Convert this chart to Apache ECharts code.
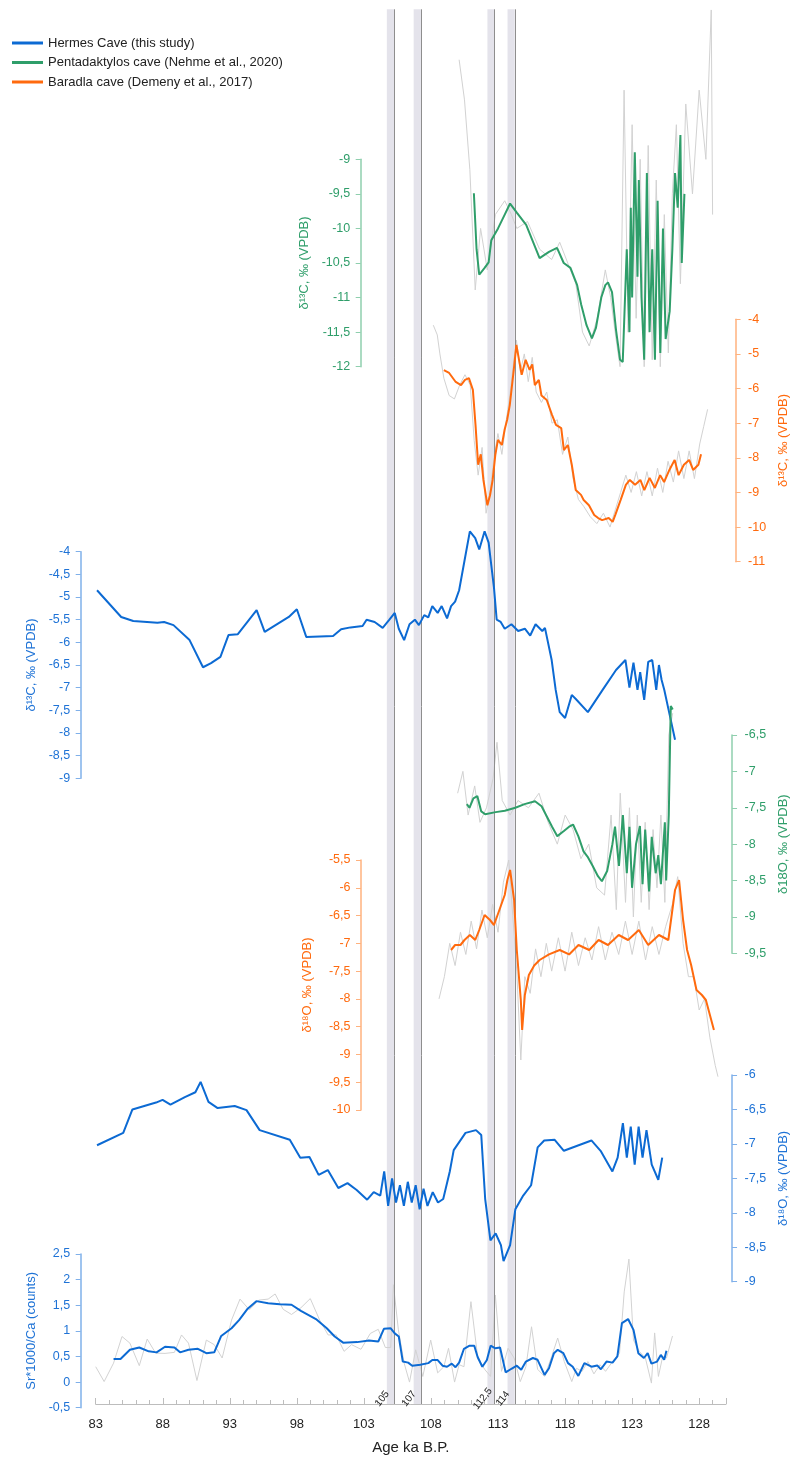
<!DOCTYPE html>
<html><head><meta charset="utf-8">
<script src="https://cdn.jsdelivr.net/npm/echarts@6/dist/echarts.min.js"></script>
<style>html,body{margin:0;padding:0;background:#fff}#c{width:798px;height:1460px}</style>
</head><body><div id="c"></div>
<script>
// ---------- DATA ----------
const ageTicks = [83, 88, 93, 98, 103, 108, 113, 118, 123, 128];
const bandAges = [105, 107, 112.5, 114];
const bandLabels = ['105', '107', '112,5', '114'];

const hermesC13 = [[83.1,-4.85],[84.9,-5.44],[85.8,-5.53],[87.6,-5.57],[88.1,-5.55],[88.8,-5.62],[90.0,-5.95],[91.0,-6.55],[91.6,-6.46],[92.3,-6.32],[92.9,-5.84],[93.6,-5.82],[95.0,-5.29],[95.6,-5.77],[97.4,-5.44],[98.0,-5.27],[98.7,-5.88],[100.7,-5.86],[101.3,-5.71],[102.0,-5.67],[102.9,-5.64],[103.2,-5.5],[103.8,-5.55],[104.4,-5.68],[104.9,-5.5],[105.3,-5.35],[105.6,-5.7],[106.0,-5.95],[106.4,-5.6],[106.8,-5.5],[107.1,-5.62],[107.5,-5.4],[107.8,-5.45],[108.1,-5.2],[108.5,-5.35],[108.8,-5.2],[109.2,-5.47],[109.5,-5.2],[109.8,-5.1],[110.1,-4.85],[110.5,-4.2],[110.9,-3.55],[111.3,-3.7],[111.6,-3.95],[112.0,-3.55],[112.3,-3.8],[112.5,-4.3],[112.7,-4.8],[112.9,-5.5],[113.2,-5.55],[113.5,-5.7],[114.0,-5.6],[114.5,-5.75],[115.0,-5.7],[115.4,-5.85],[115.8,-5.6],[116.3,-5.75],[116.5,-5.68],[117.0,-6.39],[117.3,-7.05],[117.6,-7.54],[118.0,-7.67],[118.5,-7.16],[118.8,-7.25],[119.7,-7.54],[120.8,-7.05],[121.8,-6.61],[122.5,-6.39],[122.8,-7.0],[123.1,-6.45],[123.4,-7.05],[123.6,-6.66],[123.9,-7.27],[124.2,-6.43],[124.5,-6.39],[124.8,-7.05],[125.0,-6.5],[125.2,-6.83],[125.4,-7.05],[125.8,-7.6],[126.2,-8.15]];

const hermesO18 = [[83.1,-7.02],[85.1,-6.84],[85.8,-6.5],[87.6,-6.4],[88.1,-6.36],[88.7,-6.43],[89.8,-6.32],[90.6,-6.25],[91.0,-6.1],[91.6,-6.39],[92.3,-6.48],[93.6,-6.45],[94.5,-6.51],[95.5,-6.8],[97.8,-6.94],[98.6,-7.2],[99.3,-7.19],[100.0,-7.45],[100.7,-7.38],[101.5,-7.64],[102.2,-7.57],[102.9,-7.67],[103.7,-7.81],[104.2,-7.7],[104.7,-7.75],[105.0,-7.4],[105.3,-7.9],[105.6,-7.5],[105.9,-7.85],[106.2,-7.6],[106.5,-7.9],[106.8,-7.55],[107.1,-7.85],[107.4,-7.6],[107.7,-7.95],[108.0,-7.65],[108.3,-7.9],[108.7,-7.7],[109.1,-7.85],[109.5,-7.8],[110.0,-7.4],[110.3,-7.09],[111.2,-6.84],[112.0,-6.8],[112.4,-6.87],[112.7,-7.8],[113.1,-8.4],[113.5,-8.3],[113.9,-8.47],[114.1,-8.7],[114.6,-8.47],[115.0,-7.95],[115.6,-7.75],[116.2,-7.6],[116.7,-7.05],[117.2,-6.95],[118.0,-6.94],[118.7,-7.1],[120.8,-6.95],[121.5,-7.1],[122.4,-7.4],[122.8,-7.2],[123.2,-6.7],[123.5,-7.2],[123.8,-6.75],[124.1,-7.3],[124.4,-6.75],[124.7,-7.2],[125.0,-6.8],[125.4,-7.3],[125.9,-7.52],[126.2,-7.2]];

const hermesSr = [[84.33,0.45],[84.85,0.45],[85.55,0.63],[86.25,0.675],[86.95,0.6],[87.54,0.58],[88.17,0.69],[88.87,0.675],[89.29,0.58],[89.92,0.63],[90.62,0.65],[91.25,0.565],[91.84,0.58],[92.36,0.9],[93.13,1.05],[93.69,1.21],[94.29,1.42],[94.98,1.58],[95.86,1.54],[96.73,1.52],[97.6,1.51],[98.3,1.39],[99.42,1.23],[100.23,1.05],[100.82,0.89],[101.45,0.77],[102.5,0.78],[103.37,0.81],[104.07,0.79],[104.49,1.04],[105.0,1.05],[105.3,0.95],[105.6,0.89],[105.9,0.4],[106.3,0.38],[106.6,0.32],[107.2,0.34],[107.8,0.37],[108.1,0.43],[108.5,0.43],[108.86,0.32],[109.2,0.3],[109.55,0.36],[109.83,0.29],[110.1,0.38],[110.46,0.65],[110.88,0.71],[111.23,0.71],[111.48,0.49],[111.83,0.3],[112.17,0.43],[112.45,0.71],[112.8,0.66],[113.15,0.675],[113.57,0.19],[114.0,0.26],[114.4,0.32],[114.73,0.24],[115.08,0.4],[115.6,0.47],[115.95,0.435],[116.47,0.14],[116.8,0.27],[117.17,0.565],[117.45,0.63],[117.87,0.565],[118.22,0.37],[118.57,0.3],[118.99,0.12],[119.44,0.37],[119.97,0.3],[120.4,0.325],[120.67,0.25],[121.09,0.4],[121.54,0.38],[121.9,0.5],[122.24,1.15],[122.7,1.23],[123.1,1.02],[123.46,0.565],[123.88,0.47],[124.16,0.565],[124.44,0.36],[124.86,0.4],[125.14,0.53],[125.39,0.435],[125.56,0.61]];

const hermesSrRaw = [[83.0,0.3],[83.63,0.01],[84.33,0.37],[84.96,0.89],[85.55,0.76],[86.25,0.32],[86.84,0.84],[87.47,0.565],[88.17,0.56],[88.87,0.58],[89.4,0.92],[89.92,0.76],[90.55,0.03],[91.25,0.82],[91.84,0.73],[92.43,0.47],[93.13,1.21],[93.76,1.62],[94.46,1.41],[95.16,1.6],[95.86,1.62],[96.38,1.72],[96.98,1.42],[97.6,1.32],[98.3,1.45],[99.0,1.63],[99.7,1.21],[100.33,0.92],[100.93,0.92],[101.52,0.6],[102.08,0.73],[102.78,0.64],[103.48,0.95],[104.07,1.03],[104.6,0.675],[105.0,0.675],[105.2,1.9],[105.57,1.02],[106.0,0.37],[106.4,0.0],[106.86,0.63],[107.39,0.11],[107.98,0.82],[108.5,0.18],[108.96,0.3],[109.31,0.66],[109.76,0.0],[110.1,0.34],[110.46,0.3],[110.98,1.57],[111.5,0.45],[112.03,0.24],[112.45,0.11],[112.8,1.7],[113.26,0.21],[113.75,0.66],[114.2,0.47],[114.66,0.01],[115.08,0.3],[115.5,1.08],[115.95,0.25],[116.47,0.11],[117.0,0.5],[117.45,0.86],[117.94,0.4],[118.5,0.01],[118.85,0.27],[119.27,0.21],[119.7,0.4],[120.15,0.16],[120.6,0.34],[121.02,0.21],[121.54,0.4],[122.06,0.56],[122.41,1.76],[122.76,2.4],[123.1,0.82],[123.53,0.6],[123.99,0.47],[124.44,-0.02],[124.68,0.96],[124.96,0.11],[125.28,0.5],[125.56,0.47],[126.01,0.9]];

const pentaC13 = [[111.2,-9.49],[111.4,-10.3],[111.6,-10.67],[112.0,-10.57],[112.3,-10.49],[112.5,-10.17],[113.0,-10.0],[113.5,-9.8],[113.9,-9.64],[114.4,-9.77],[115.1,-9.95],[116.1,-10.43],[116.8,-10.34],[117.4,-10.28],[117.9,-10.5],[118.4,-10.57],[118.9,-10.82],[119.2,-11.1],[119.6,-11.4],[120.0,-11.59],[120.3,-11.44],[120.7,-11.0],[121.0,-10.82],[121.2,-10.78],[121.5,-10.92],[121.8,-11.47],[122.1,-11.9],[122.3,-11.93],[122.6,-10.3],[122.8,-11.5],[122.9,-9.7],[123.0,-11.0],[123.2,-8.9],[123.4,-10.7],[123.5,-9.3],[123.7,-11.0],[123.9,-11.9],[124.1,-9.2],[124.3,-11.5],[124.5,-10.3],[124.7,-11.9],[124.9,-9.6],[125.1,-11.8],[125.3,-10.0],[125.5,-11.6],[125.8,-11.2],[126.0,-10.3],[126.2,-9.2],[126.4,-9.7],[126.6,-8.65],[126.7,-10.5],[126.9,-9.5]];
const pentaC13Raw = [[110.1,-7.56],[110.5,-8.14],[110.9,-9.15],[111.3,-10.89],[111.7,-10.0],[112.2,-10.6],[112.8,-9.8],[113.5,-9.6],[114.0,-9.8],[114.4,-10.0],[115.2,-9.9],[116.1,-10.3],[117.0,-10.45],[117.6,-10.2],[118.2,-10.5],[118.8,-10.8],[119.3,-11.5],[119.8,-11.7],[120.4,-11.3],[121.0,-10.6],[121.4,-11.0],[121.8,-11.6],[122.1,-12.0],[122.4,-8.0],[122.7,-11.5],[123.0,-8.5],[123.3,-11.3],[123.6,-9.0],[123.9,-12.0],[124.2,-8.8],[124.5,-11.9],[124.8,-9.3],[125.1,-12.0],[125.4,-9.8],[125.7,-11.8],[126.0,-9.5],[126.3,-8.5],[126.6,-10.8],[127.0,-8.2],[127.5,-9.5],[128.0,-8.0],[128.5,-9.0],[128.9,-6.84],[129.0,-9.8]];

const baradlaC13 = [[109.4,-5.47],[109.8,-5.55],[110.3,-5.81],[110.7,-5.9],[111.0,-5.75],[111.3,-5.7],[111.6,-6.04],[111.8,-7.05],[112.0,-8.2],[112.2,-7.9],[112.4,-8.64],[112.7,-9.37],[112.9,-9.08],[113.1,-8.64],[113.3,-7.92],[113.5,-7.48],[113.8,-7.63],[114.0,-7.2],[114.2,-6.9],[114.4,-6.47],[114.7,-5.46],[114.9,-4.74],[115.1,-5.17],[115.3,-5.6],[115.6,-5.17],[115.9,-5.46],[116.1,-5.3],[116.3,-5.9],[116.6,-5.75],[116.8,-6.2],[117.2,-6.33],[117.6,-6.76],[117.9,-7.05],[118.3,-7.14],[118.5,-7.78],[118.8,-7.63],[119.1,-8.2],[119.4,-8.93],[119.8,-9.07],[120.0,-9.22],[120.4,-9.37],[120.8,-9.65],[121.1,-9.74],[121.4,-9.8],[121.9,-9.74],[122.2,-9.85],[122.4,-9.65],[122.8,-9.22],[123.2,-8.78],[123.5,-8.64],[123.9,-8.78],[124.3,-8.64],[124.6,-8.93],[125.0,-8.58],[125.4,-8.87],[125.8,-8.5],[126.1,-8.7],[126.5,-8.35],[126.9,-8.06],[127.2,-8.5],[127.6,-8.2],[128.0,-8.06],[128.3,-8.35],[128.7,-8.2],[128.9,-7.9]];
const baradlaC13Raw = [[108.6,-4.17],[108.9,-4.45],[109.1,-5.0],[109.4,-5.7],[109.8,-6.2],[110.2,-6.3],[110.6,-5.9],[111.0,-5.6],[111.4,-5.9],[111.7,-7.5],[112.0,-8.5],[112.3,-7.7],[112.6,-9.6],[112.9,-9.0],[113.2,-8.0],[113.5,-7.3],[113.8,-7.9],[114.1,-7.0],[114.4,-6.2],[114.7,-5.2],[114.9,-4.6],[115.2,-5.5],[115.5,-5.0],[115.8,-5.8],[116.1,-5.1],[116.4,-6.1],[116.8,-6.4],[117.2,-6.1],[117.6,-7.0],[118.0,-6.9],[118.4,-7.9],[118.8,-7.4],[119.2,-8.6],[119.6,-9.2],[120.0,-9.4],[120.5,-9.7],[121.0,-9.9],[121.5,-9.6],[122.0,-10.0],[122.4,-9.5],[122.8,-9.0],[123.2,-8.5],[123.6,-9.0],[124.0,-8.4],[124.4,-9.1],[124.8,-8.4],[125.2,-9.1],[125.6,-8.3],[126.0,-9.0],[126.4,-8.1],[126.8,-8.7],[127.2,-7.8],[127.6,-8.6],[128.0,-7.8],[128.4,-8.6],[128.8,-7.6],[129.1,-7.1],[129.4,-6.6]];

const pentaO18 = [[111.3,-7.45],[111.5,-7.5],[111.8,-7.37],[112.1,-7.34],[112.4,-7.55],[112.7,-7.59],[113.5,-7.56],[114.2,-7.54],[115.0,-7.5],[115.7,-7.45],[116.5,-7.41],[117.0,-7.48],[117.4,-7.62],[117.8,-7.76],[118.2,-7.89],[118.7,-7.82],[119.1,-7.76],[119.4,-7.73],[119.8,-7.89],[120.2,-8.1],[120.5,-8.17],[120.9,-8.3],[121.3,-8.44],[121.6,-8.51],[122.0,-8.37],[122.4,-8.0],[122.6,-7.76],[122.9,-8.3],[123.2,-7.6],[123.5,-8.4],[123.7,-7.76],[123.9,-8.6],[124.2,-8.0],[124.5,-7.75],[124.7,-8.55],[124.9,-7.8],[125.2,-8.65],[125.4,-7.9],[125.7,-8.4],[125.9,-8.15],[126.1,-8.55],[126.4,-7.7],[126.5,-8.5],[126.7,-7.6],[126.85,-6.1],[127.0,-6.15]];
const pentaO18Raw = [[110.6,-7.3],[111.0,-7.0],[111.4,-7.6],[111.9,-7.2],[112.3,-7.7],[112.8,-7.5],[113.3,-7.1],[113.6,-6.6],[114.0,-7.4],[114.6,-7.6],[115.2,-7.4],[116.0,-7.5],[116.8,-7.3],[117.5,-7.7],[118.2,-8.0],[118.8,-7.6],[119.4,-7.8],[120.0,-8.2],[120.6,-8.0],[121.2,-8.6],[121.8,-8.7],[122.3,-7.6],[122.7,-8.9],[123.0,-7.3],[123.4,-8.8],[123.7,-7.5],[124.0,-9.0],[124.3,-7.6],[124.6,-8.8],[124.9,-7.7],[125.2,-8.9],[125.5,-7.8],[125.8,-8.6],[126.1,-7.6],[126.4,-8.8],[126.7,-6.5],[127.0,-6.2]];

const baradlaO18 = [[109.5,-7.12],[109.8,-7.03],[110.2,-7.03],[110.5,-6.94],[110.9,-6.85],[111.3,-6.94],[111.6,-6.76],[112.0,-6.49],[112.4,-6.58],[112.7,-6.67],[113.1,-6.4],[113.5,-6.13],[113.7,-5.86],[113.9,-5.68],[114.2,-6.22],[114.4,-7.12],[114.7,-8.02],[114.8,-8.56],[115.0,-7.93],[115.3,-7.57],[115.7,-7.4],[116.1,-7.3],[116.8,-7.2],[117.6,-7.12],[118.3,-7.2],[119.0,-7.03],[119.8,-7.12],[120.5,-6.94],[121.2,-7.03],[122.0,-6.85],[122.7,-6.94],[123.5,-6.76],[124.2,-7.03],[125.0,-6.85],[125.7,-6.94],[126.2,-6.04],[126.5,-5.86],[126.8,-6.58],[127.1,-7.12],[127.4,-7.39],[127.8,-7.84],[128.2,-7.93],[128.5,-8.02],[128.9,-8.38],[129.1,-8.56]];
const baradlaO18Raw = [[108.6,-8.0],[109.0,-7.6],[109.4,-7.0],[109.8,-7.4],[110.2,-6.8],[110.6,-7.2],[111.0,-6.6],[111.4,-7.1],[111.8,-6.4],[112.2,-6.9],[112.6,-6.3],[113.0,-6.8],[113.4,-5.9],[113.8,-5.5],[114.1,-6.5],[114.4,-7.5],[114.7,-9.1],[115.0,-7.6],[115.4,-7.9],[115.8,-7.1],[116.2,-7.6],[116.6,-7.0],[117.0,-7.5],[117.5,-6.9],[118.0,-7.5],[118.5,-6.8],[119.0,-7.4],[119.5,-6.9],[120.0,-7.3],[120.5,-6.7],[121.0,-7.3],[121.5,-6.8],[122.0,-7.2],[122.5,-6.6],[123.0,-7.2],[123.5,-6.6],[124.0,-7.3],[124.5,-6.7],[125.0,-7.2],[125.5,-6.7],[126.0,-6.3],[126.4,-5.8],[126.8,-7.0],[127.2,-7.6],[127.6,-7.6],[128.0,-8.2],[128.4,-8.0],[128.8,-8.7],[129.2,-9.2],[129.4,-9.4]];

// ---------- STYLE ----------
const BLUE = '#0c6ad3', GREEN = '#2f9e6a', ORANGE = '#ff6a0e', GRAY = '#d2d2d2';
const N_H = 'Hermes Cave (this study)', N_P = 'Pentadaktylos cave (Nehme et al., 2020)', N_B = 'Baradla cave (Demeny et al., 2017)';
const FONT = 'Liberation Sans';
const GL = 95.7, GW = 630.3;
const comma = v => String(Math.round(v*100)/100).replace('.', ',');

const panels = [
  {min:-12, max:-9, iv:0.5, top:159.3, bot:366.7, pos:'left', ax:360.7, color:GREEN, line:'#8fcfae', name:'δ¹³C, ‰ (VPDB)', gap:42.5},
  {min:-11, max:-4, iv:1, top:319.3, bot:561.7, pos:'right', ax:746, color:ORANGE, line:'#ffb27e', name:'δ¹³C, ‰ (VPDB)', gap:37},
  {min:-9, max:-4, iv:0.5, top:551.7, bot:778.3, pos:'left', ax:80.7, color:'#1f73d6', line:'#7fb0ea', name:'δ¹³C, ‰ (VPDB)', gap:37.5},
  {min:-9.5, max:-6.5, iv:0.5, top:735, bot:953.3, pos:'right', ax:746, color:GREEN, line:'#8fcfae', name:'δ18O, ‰ (VPDB)', gap:39},
  {min:-10, max:-5.5, iv:0.5, top:860, bot:1110, pos:'left', ax:361, color:ORANGE, line:'#ffb27e', name:'δ¹⁸O, ‰ (VPDB)', gap:47},
  {min:-9, max:-6, iv:0.5, top:1075, bot:1281.7, pos:'right', ax:746, color:'#1f73d6', line:'#7fb0ea', name:'δ¹⁸O, ‰ (VPDB)', gap:39},
  {min:-0.5, max:2.5, iv:0.5, top:1254, bot:1407.7, pos:'left', ax:80.7, color:'#1f73d6', line:'#7fb0ea', name:'Sr*1000/Ca (counts)', gap:39}
];

const grids = [{left:GL, width:GW, top:9.3, height:1411.7-9.3}];
const xAxes = [{
  gridIndex:0, type:'value', min:83, max:130, interval:5,
  axisLine:{lineStyle:{color:'#bdbdbd', width:1}},
  axisTick:{inside:true, length:6, lineStyle:{color:'#bdbdbd'}},
  minorTick:{show:true, splitNumber:5, length:4, lineStyle:{color:'#bdbdbd'}},
  splitLine:{show:false}, minorSplitLine:{show:false},
  axisLabel:{color:'#222', fontSize:13, fontFamily:FONT, margin:14, showMaxLabel:false,
    formatter: v => ageTicks.includes(v) ? String(v) : ''},
  name:'Age ka B.P.', nameLocation:'middle', nameGap:36,
  nameTextStyle:{color:'#222', fontSize:15, fontFamily:FONT}
}];
const yAxes = [{gridIndex:0, type:'value', min:0, max:1, show:false}];
panels.forEach((p, i) => {
  grids.push({left:GL, width:GW, top:p.top, height:p.bot - p.top});
  xAxes.push({gridIndex:i+1, type:'value', min:83, max:130, show:false});
  yAxes.push({
    gridIndex:i+1, type:'value', min:p.min, max:p.max, interval:p.iv, position:p.pos,
    offset: p.pos === 'left' ? GL - p.ax : p.ax - (GL + GW),
    axisLine:{show:true, lineStyle:{color:p.line, width:1.5}},
    axisTick:{show:true, length:5, lineStyle:{color:p.line}},
    splitLine:{show:false},
    axisLabel:{color:p.color, fontSize:12.5, fontFamily:FONT, margin:p.pos === 'left' ? 10.5 : 12.5, formatter:comma},
    name:p.name, nameLocation:'middle', nameGap:p.gap, nameRotate:90,
    nameTextStyle:{color:p.color, fontSize:13, fontFamily:FONT}
  });
});

function lineSeries(name, data, idx, color, width, z) {
  return {name, type:'line', data, xAxisIndex:idx, yAxisIndex:idx, showSymbol:false, symbol:'none',
    clip:false, z, lineStyle:{color, width}, itemStyle:{color}, animation:false};
}

const bandSeries = {
  type:'line', xAxisIndex:0, yAxisIndex:0, data:[[83,-1]], showSymbol:false, z:1, animation:false,
  lineStyle:{opacity:0},
  markArea:{silent:true, itemStyle:{color:'#e4e3eb'},
    data: bandAges.map(a => [{xAxis:a-0.29}, {xAxis:a+0.25}])},
  markLine:{silent:true, symbol:'none', label:{show:false}, lineStyle:{color:'#8e8e8e', width:1, type:'solid'},
    data: bandAges.map(a => ({xAxis:a+0.25}))},
  markPoint:{silent:true, symbol:'circle', symbolSize:1, itemStyle:{color:'rgba(0,0,0,0)'},
    label:{show:true, position:'inside', rotate:52, fontSize:10, color:'#222', fontFamily:FONT, offset:[-1,-10]},
    data: bandAges.map((a, k) => ({coord:[a, 0], value:bandLabels[k], label:{formatter:bandLabels[k]}}))}
};

const series = [
  bandSeries,
  lineSeries('raw1', pentaC13Raw, 1, GRAY, 1, 3),
  lineSeries(N_P, pentaC13, 1, GREEN, 2, 5),
  lineSeries('raw2', baradlaC13Raw, 2, GRAY, 1, 3),
  lineSeries(N_B, baradlaC13, 2, ORANGE, 2, 5),
  lineSeries(N_H, hermesC13, 3, BLUE, 2, 5),
  lineSeries('raw4', pentaO18Raw, 4, GRAY, 1, 3),
  lineSeries(N_P, pentaO18, 4, GREEN, 2, 5),
  lineSeries('raw5', baradlaO18Raw, 5, GRAY, 1, 3),
  lineSeries(N_B, baradlaO18, 5, ORANGE, 2, 5),
  lineSeries(N_H, hermesO18, 6, BLUE, 2, 5),
  lineSeries('raw7', hermesSrRaw, 7, GRAY, 1, 3),
  lineSeries(N_H, hermesSr, 7, BLUE, 2, 5)
];

const chart = echarts.init(document.getElementById('c'), null, {renderer:'canvas'});
chart.setOption({
  animation:false,
  backgroundColor:'#fff',
  legend:{orient:'vertical', left:12, top:36, padding:0, itemWidth:31, itemHeight:3, itemGap:5.5, icon:'rect',
    data:[N_H, N_P, N_B],
    textStyle:{color:'#222', fontSize:13, fontFamily:FONT, lineHeight:14}},
  grid:grids, xAxis:xAxes, yAxis:yAxes, series
});
</script></body></html>
